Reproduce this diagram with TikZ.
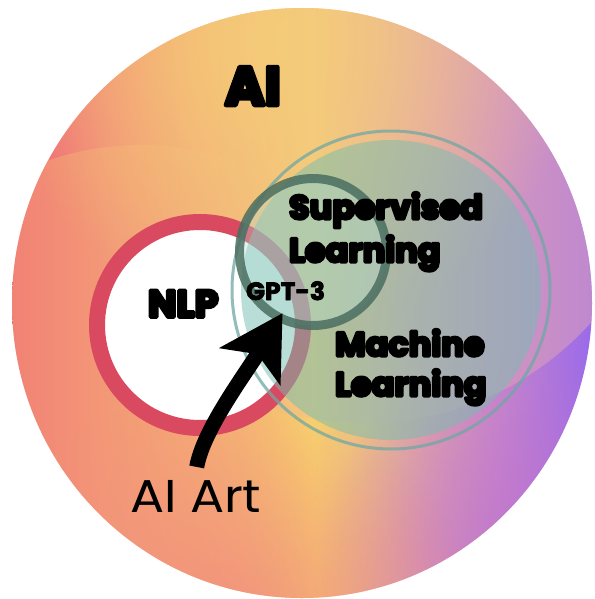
\documentclass[tikz,border=0pt]{standalone}
\usepackage{fontspec}
\setmainfont{Poppins}
\newfontfamily\wide{Poppins}[FakeStretch=1.1]
\usetikzlibrary{arrows.meta,fadings}

% heavy lettering: glyphs are filled and stroked with the given pen width
\newcommand{\heavyink}[2][3]{\special{pdf:literal direct 2 Tr #1 w 1 j}#2\special{pdf:literal direct 0 Tr}}

% palette
\definecolor{aipink}{HTML}{EE5F78}
\definecolor{aicoral}{HTML}{F2867A}
\definecolor{aiorange}{HTML}{F5B474}
\definecolor{aiyellow}{HTML}{F8D46C}
\definecolor{aidusty}{HTML}{E0A4A8}
\definecolor{aililac}{HTML}{C686CC}
\definecolor{aipurple}{HTML}{9A6AEA}
\definecolor{aisalmon}{HTML}{F07884}
\definecolor{aimagenta}{HTML}{C070CC}
\definecolor{aiglow}{HTML}{F9D070}
\definecolor{ailight}{HTML}{E8ACB0}
\definecolor{nlpred}{HTML}{D94A60}
\definecolor{mlteal}{HTML}{73BEB1}
\definecolor{mlrim}{HTML}{6FA8A4}
\definecolor{svring}{HTML}{4A6E60}
\definecolor{svfill}{HTML}{B4DCD4}

% left-to-right colour sweep of the outer disc
\pgfdeclarehorizontalshading{aiband}{100bp}{%
  color(0bp)=(aipink); color(25bp)=(aipink); color(33bp)=(aicoral);
  color(45bp)=(aiorange); color(51bp)=(aiyellow); color(60bp)=(aidusty);
  color(67bp)=(aililac); color(75bp)=(aipurple); color(100bp)=(aipurple)}
\tikzfading[name=softblob, inner color=transparent!0, outer color=transparent!100]
\tikzfading[name=solidleft, left color=transparent!0, right color=transparent!100]
\tikzfading[name=solidright, left color=transparent!100, right color=transparent!0]

\begin{document}
\begin{tikzpicture}[x=1pt, y=-1pt,
  lbl/.style={inner sep=0pt, outer sep=0pt, text=black},
  ring/.style={circle, inner sep=0pt, outer sep=0pt}]
\useasboundingbox (0,0) rectangle (594,599);
\fill[white] (0,0) rectangle (594,599);

% outer AI disc
\coordinate (aic) at (302,303);
\shade[shading=aiband] (aic) ellipse [x radius=290, y radius=295];
\begin{scope}
  \clip (aic) ellipse [x radius=290, y radius=295];
  \fill[aiyellow, path fading=softblob] (290,40) circle [radius=290];
  \fill[aimagenta, path fading=softblob, fill opacity=0.7] (530,560) circle [radius=210];
  \fill[aisalmon, path fading=softblob, fill opacity=0.85] (220,660) circle [radius=270];
  % lighter sweeps over the middle of the disc
  \fill[aiglow, fill opacity=0.45, path fading=solidleft]
    (140,470) ellipse [x radius=300, y radius=325];
  \fill[ailight, fill opacity=0.55, path fading=solidright]
    (365,118) circle [radius=305];
\end{scope}

% NLP ring
\node[ring, minimum size=206pt, fill=white, draw=nlpred, line width=16pt] (nlpring) at (200,325) {};

% Machine Learning disc with its outer rim
\node[ring, minimum size=300pt, fill=mlteal, fill opacity=0.5] (ml) at (391,290) {};
\node[ring, minimum size=318pt, draw=mlrim, line width=3pt, draw opacity=0.75] (mlrimc) at (391,290) {};

% Supervised Learning disc
\node[ring, minimum size=147pt, fill=svfill, fill opacity=0.35,
      draw=svring, draw opacity=0.85, line width=9pt] (sv) at (313,252) {};

% labels (a multi-line node sits on the baseline of its last line)
\node[lbl, anchor=base west, font=\bfseries\fontsize{54}{54}\selectfont] (ai) at (225,105) {\heavyink[4.5]{AI}};
\node[lbl, anchor=base west, align=left, font=\bfseries\fontsize{33.5}{43}\selectfont] (svl) at (289,262) {\heavyink{Supervised}\\\heavyink{Learning}};
\node[lbl, anchor=base west, align=left, font=\bfseries\fontsize{33.5}{40}\selectfont] (mll) at (335,396) {\heavyink{Machine}\\\heavyink{Learning}};
\node[lbl, anchor=base west, font=\bfseries\fontsize{38}{38}\selectfont] (nlp) at (148,317) {\heavyink[3.5]{NLP}};
\node[lbl, anchor=base west, font=\bfseries\fontsize{25}{25}\selectfont] (gpt) at (246,300) {\heavyink[0.8]{GPT-3}};
\node[lbl, anchor=base west, font=\wide\fontsize{46}{46}\selectfont] (art) at (130,512) {AI Art};

% arrow from AI Art up to GPT-3
\coordinate (arttail) at ([xshift=1pt, yshift=13pt]art.north);
\coordinate (gpttip) at ([xshift=-3pt, yshift=-13pt]gpt.south);
\draw[line width=15pt, -{Stealth[length=62pt, width=70pt, inset=14pt]}]
  (arttail) .. controls (203,430) and (246,373) .. (gpttip);
\end{tikzpicture}
\end{document}
